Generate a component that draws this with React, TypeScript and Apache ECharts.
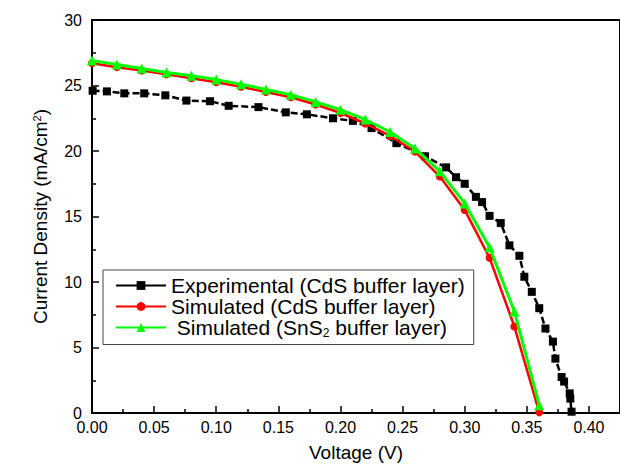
import React, { useEffect, useRef } from "react";
import * as echarts from "echarts";

const expVoltage = [0.0005, 0.012, 0.026, 0.042, 0.059, 0.076, 0.095, 0.11, 0.134, 0.156, 0.173, 0.194, 0.21, 0.225, 0.245, 0.268, 0.285, 0.293, 0.3, 0.309, 0.314, 0.32, 0.329, 0.336, 0.344, 0.348, 0.354, 0.36, 0.365, 0.371, 0.373, 0.378, 0.38, 0.3845, 0.385, 0.386];
const expCurrent = [24.6, 24.55, 24.4, 24.4, 24.25, 23.85, 23.8, 23.45, 23.35, 22.95, 22.8, 22.5, 22.3, 21.75, 20.6, 19.6, 18.75, 18.0, 17.5, 16.5, 16.1, 15.05, 14.5, 12.8, 12.0, 10.4, 9.25, 8.0, 6.45, 5.45, 4.15, 2.75, 2.4, 1.5, 1.1, 0.1];

const simVoltage = [0, 0.02, 0.04, 0.06, 0.08, 0.1, 0.12, 0.14, 0.16, 0.18, 0.2, 0.22, 0.24, 0.26, 0.28, 0.3, 0.32, 0.34, 0.36];
const simCdS = [26.7, 26.4, 26.15, 25.85, 25.55, 25.25, 24.9, 24.5, 24.1, 23.55, 22.9, 22.1, 21.15, 19.95, 18.05, 15.5, 11.85, 6.6, 0.05];
const simSnS2 = [26.9, 26.6, 26.3, 26.0, 25.75, 25.45, 25.1, 24.7, 24.3, 23.75, 23.15, 22.4, 21.45, 20.2, 18.45, 16.0, 12.65, 7.75, 0.6];

const seriesNames = ["Experimental (CdS buffer layer)", "Simulated (CdS buffer layer)", "Simulated (SnS2 buffer layer)"];

const FONT = "'Liberation Sans', Arial, sans-serif";

export default function App() {
  const ref = useRef<HTMLDivElement>(null);
  useEffect(() => {
    if (!ref.current) return;
    const chart = echarts.init(ref.current, undefined, { renderer: "svg" });
    const zip = (xs: number[], ys: number[]) => xs.map((x, i) => [x, ys[i]]);
    chart.setOption({
      animation: false,
      textStyle: { fontFamily: FONT },
      grid: {
        left: 92,
        top: 20,
        width: 530,
        height: 393,
        show: true,
        borderColor: "#000",
        borderWidth: 2,
        backgroundColor: "transparent",
      },
      legend: {
        orient: "vertical",
        left: 103,
        top: 270,
        padding: [5, 9, 6, 12],
        itemGap: 0,
        itemWidth: 50,
        itemHeight: 11,
        borderColor: "#444",
        borderWidth: 1,
        lineStyle: { type: "solid" },
        data: seriesNames,
        formatter: (name: string) => {
          if (name === seriesNames[2]) return "{t| Simulated (SnS}{s|2}{t| buffer layer)}";
          return "{t|" + name + "}";
        },
        textStyle: {
          fontFamily: FONT,
          color: "#000",
          rich: {
            t: { fontSize: 21, lineHeight: 22, color: "#000", fontFamily: FONT },
            s: { fontSize: 12, lineHeight: 22, color: "#000", fontFamily: FONT, verticalAlign: "bottom", padding: [8, 0, 0, 0] },
          },
        },
      },
      xAxis: {
        type: "value",
        min: 0,
        max: 0.425,
        interval: 0.05,
        name: "Voltage (V)",
        nameLocation: "middle",
        nameGap: 30,
        nameTextStyle: { fontSize: 19, color: "#000", fontFamily: FONT },
        axisLine: { show: true, onZero: false, lineStyle: { color: "#000", width: 2 } },
        axisTick: { show: true, inside: true, length: 7, lineStyle: { color: "#000", width: 1.5 } },
        minorTick: { show: true, splitNumber: 2, length: 4, lineStyle: { color: "#000", width: 1.5 } },
        axisLabel: {
          fontSize: 16,
          lineHeight: 14,
          color: "#000",
          margin: 7,
          fontFamily: FONT,
          showMaxLabel: false,
          formatter: (v: number) => v.toFixed(2),
        },
        splitLine: { show: false },
      },
      yAxis: {
        type: "value",
        min: 0,
        max: 30,
        interval: 5,
        name: "Current Density (mA/cm{sup|2})",
        nameLocation: "middle",
        nameRotate: 90,
        nameGap: 42,
        nameTextStyle: {
          fontSize: 19,
          color: "#000",
          fontFamily: FONT,
          rich: {
            sup: { fontSize: 11, color: "#000", fontFamily: FONT, verticalAlign: "top", padding: [0, 0, 8, 0] },
          },
        },
        axisLine: { show: true, onZero: false, lineStyle: { color: "#000", width: 2 } },
        axisTick: { show: true, inside: true, length: 7, lineStyle: { color: "#000", width: 1.5 } },
        minorTick: { show: true, splitNumber: 2, length: 4, lineStyle: { color: "#000", width: 1.5 } },
        axisLabel: { fontSize: 16, lineHeight: 12, color: "#000", margin: 10, fontFamily: FONT },
        splitLine: { show: false },
      },
      series: [
        {
          name: seriesNames[0],
          type: "line",
          data: zip(expVoltage, expCurrent),
          symbol: "rect",
          symbolSize: 8,
          showAllSymbol: true,
          itemStyle: { color: "#000" },
          lineStyle: { color: "#000", width: 2.5, type: [7, 3] },
          z: 2,
        },
        {
          name: seriesNames[1],
          type: "line",
          data: zip(simVoltage, simCdS),
          symbol: "circle",
          symbolSize: 8,
          showAllSymbol: true,
          itemStyle: { color: "#ff0000" },
          lineStyle: { color: "#ff0000", width: 2.5 },
          z: 3,
        },
        {
          name: seriesNames[2],
          type: "line",
          data: zip(simVoltage, simSnS2),
          symbol: "triangle",
          symbolSize: 10,
          showAllSymbol: true,
          itemStyle: { color: "#00ff00" },
          lineStyle: { color: "#00ff00", width: 3 },
          z: 4,
        },
      ],
    });
    return () => chart.dispose();
  }, []);
  return (
    <div
      ref={ref}
      style={{ position: "fixed", left: 0, top: 0, width: 620, height: 467, background: "#fff" }}
    />
  );
}
